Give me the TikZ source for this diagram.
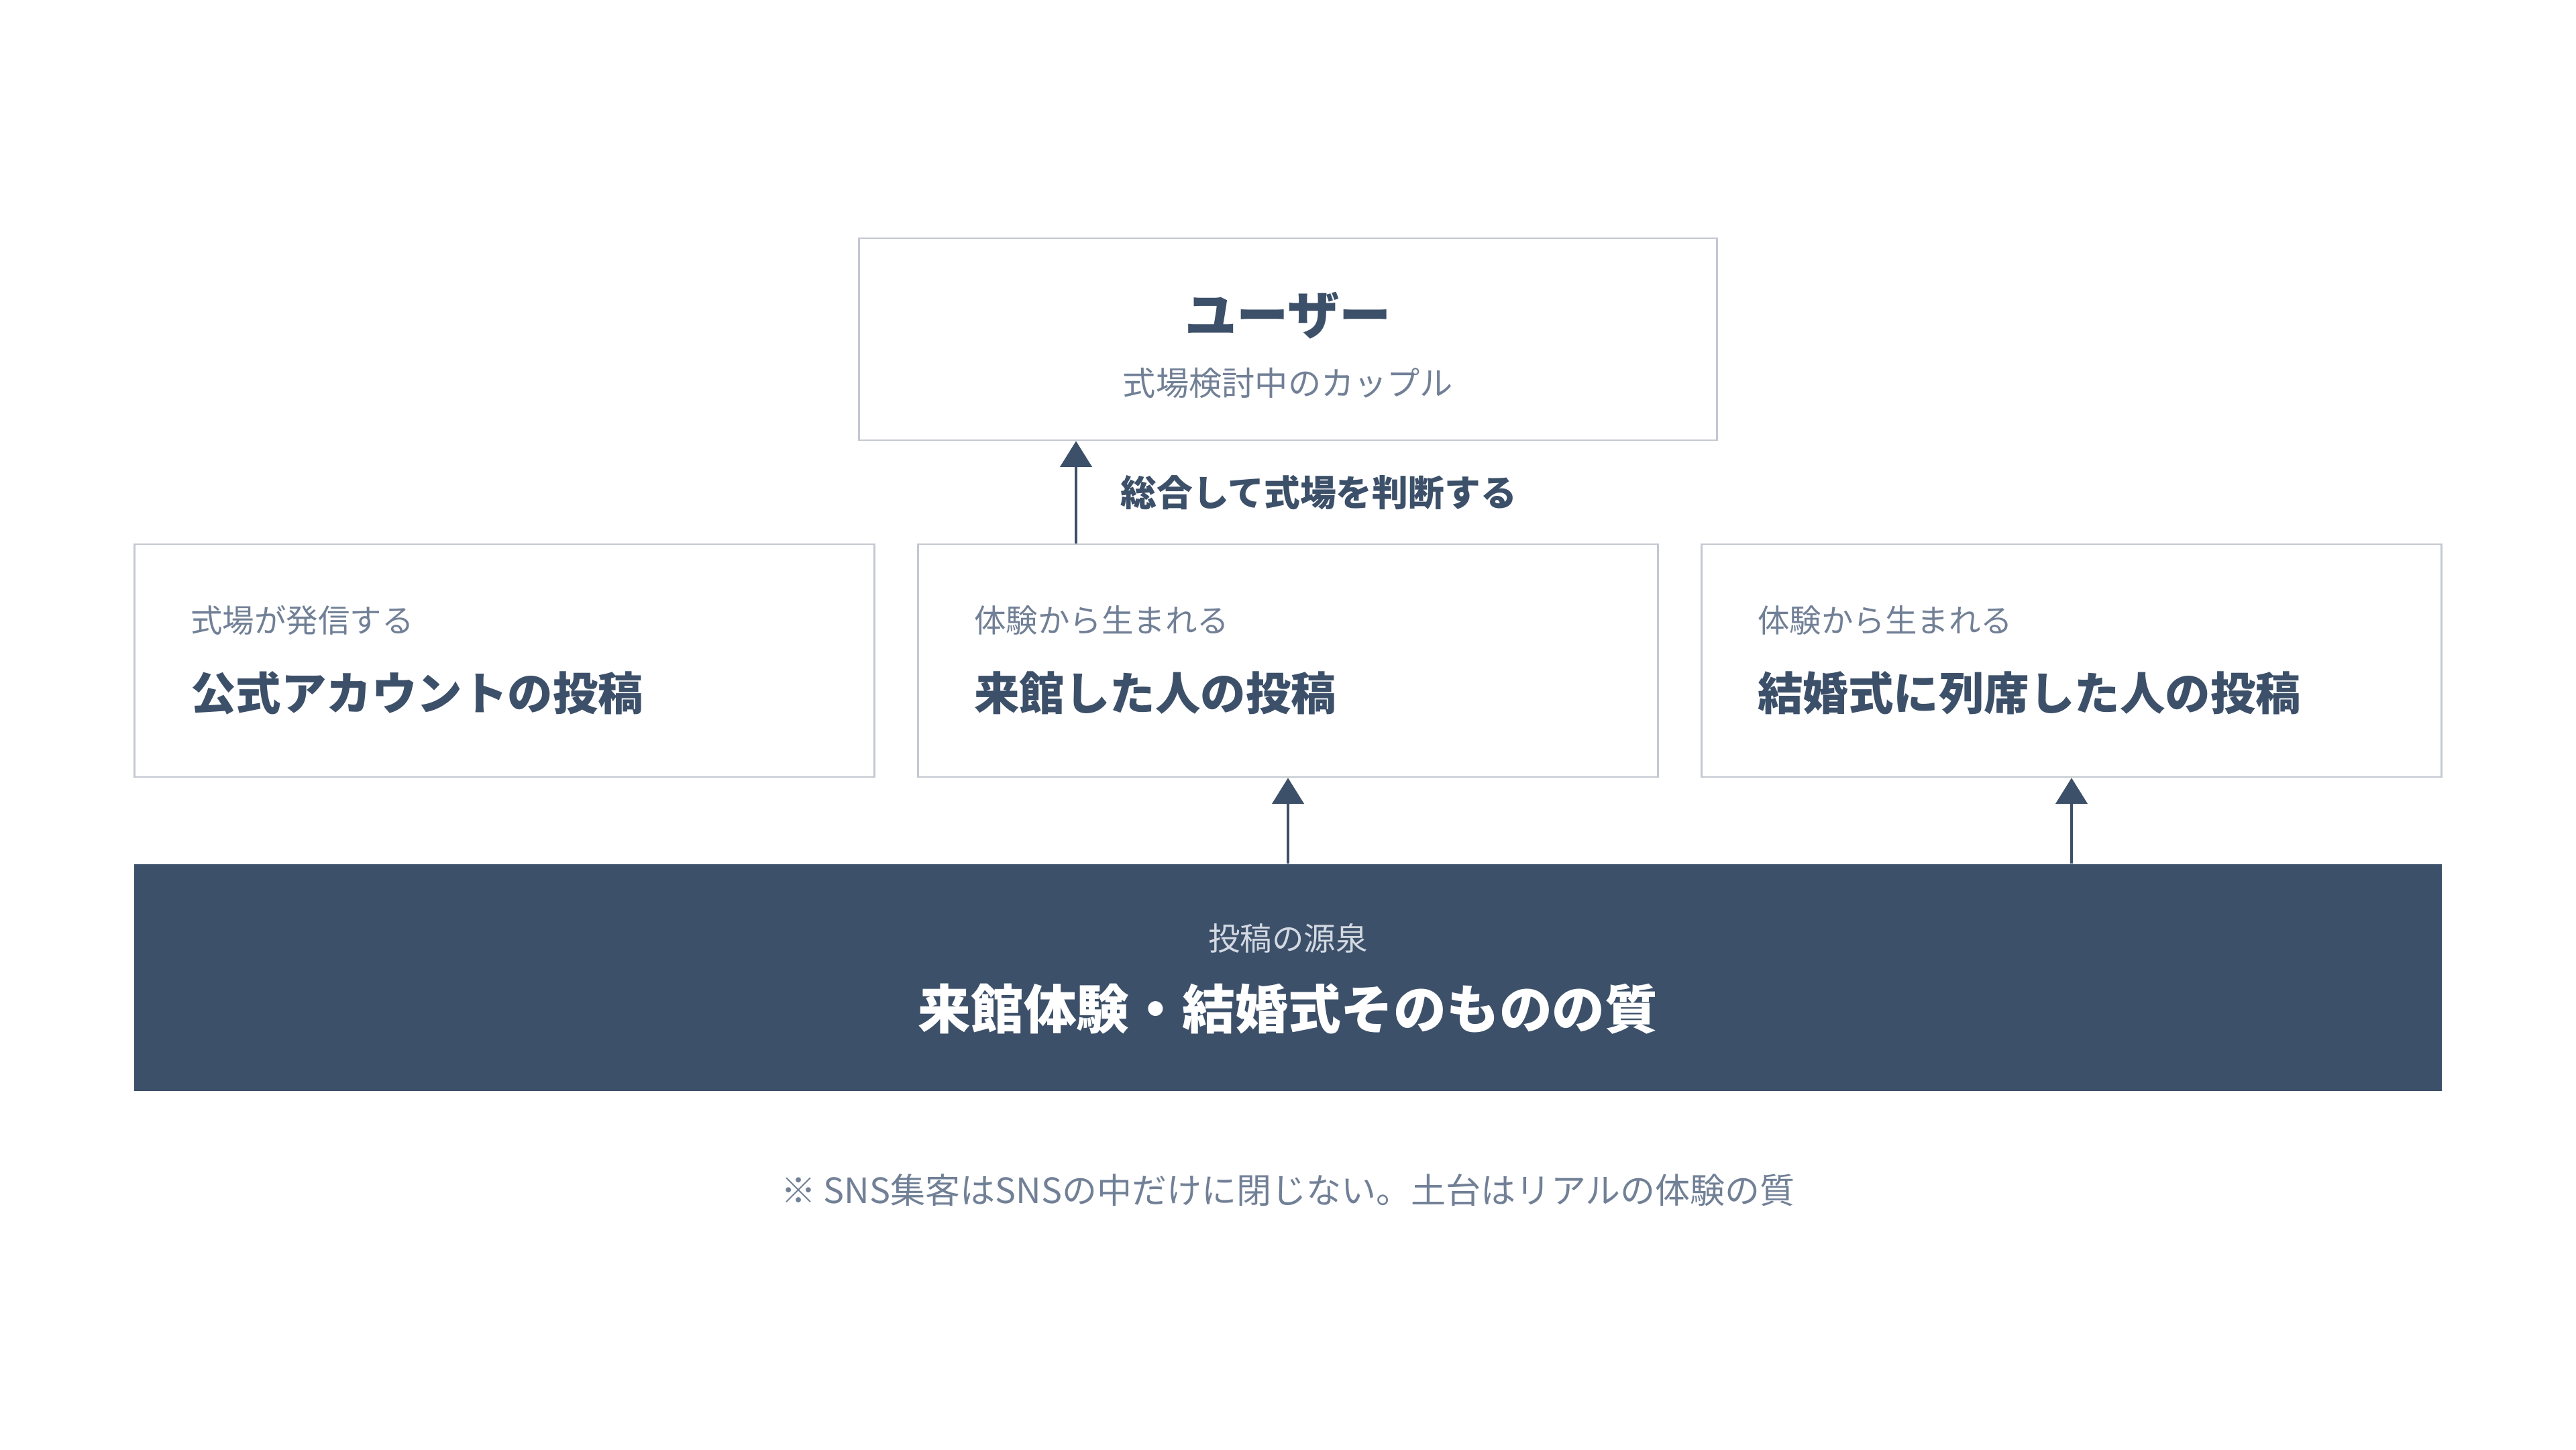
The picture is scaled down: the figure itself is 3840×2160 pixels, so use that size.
\documentclass[tikz,border=0pt]{standalone}
\usepackage{fontspec}
\setmainfont{Noto Sans CJK JP}
\usepackage{tikz}
\usetikzlibrary{arrows.meta,positioning}
\definecolor{navy}{HTML}{3D5069}
\definecolor{edgegray}{HTML}{C3C8D1}
\definecolor{subgray}{HTML}{718096}
\definecolor{palegray}{HTML}{D3D9E2}

\begin{document}
\begin{tikzpicture}[x=0.01cm,y=0.01cm,
            card/.style={draw=edgegray,line width=0.7pt,fill=white,
                minimum width=11.02cm,minimum height=3.47cm,inner sep=0pt},
            usercard/.style={card,minimum width=12.78cm,minimum height=3.01cm},
            base/.style={fill=navy,minimum width=34.38cm,minimum height=3.38cm,
                inner sep=0pt},
            subtxt/.style={font=\fontsize{13.5pt}{16pt}\selectfont,text=subgray,
                inner sep=0pt},
            headtxt/.style={font=\fontsize{19.2pt}{23pt}\selectfont\bfseries,
                text=navy,inner sep=0pt},
            up/.style={draw=navy,line width=1.15pt,
                -{Triangle[length=11pt,width=13.4pt]}}]
            \useasboundingbox (0,0) rectangle (3840,2160);

            % top: the couple
            \node[usercard] (user) at (1920,1654.5) {};
            \node[headtxt,font=\fontsize{22pt}{26pt}\selectfont\bfseries] (usert) at (1920,1690) {ユーザー};
            \node[subtxt,font=\fontsize{14pt}{17pt}\selectfont] (users) at (1920,1589) {式場検討中のカップル};

            % middle row
            \node[card] (official) at (752,1175.5) {};
            \node[card] (visit) at (1920,1175.5) {};
            \node[card] (guest) at (3088,1175.5) {};
            \node[subtxt,anchor=west] (officials) at ([xshift=0.84cm,yshift=0.6cm]official.west) {式場が発信する};
            \node[headtxt,anchor=west] (officialt) at ([xshift=0.84cm,yshift=-0.48cm]official.west) {公式アカウントの投稿};
            \node[subtxt,anchor=west] (visits) at ([xshift=0.84cm,yshift=0.6cm]visit.west) {体験から生まれる};
            \node[headtxt,anchor=west] (visitt) at ([xshift=0.84cm,yshift=-0.48cm]visit.west) {来館した人の投稿};
            \node[subtxt,anchor=west] (guests) at ([xshift=0.84cm,yshift=0.6cm]guest.west) {体験から生まれる};
            \node[headtxt,anchor=west] (guestt) at ([xshift=0.84cm,yshift=-0.48cm]guest.west) {結婚式に列席した人の投稿};

            % bottom band
            \node[base] (source) at (1920,703) {};
            \node[subtxt,text=palegray] (sources) at (1920,762) {投稿の源泉};
            \node[headtxt,text=white,font=\fontsize{22.4pt}{27pt}\selectfont\bfseries] (sourcet) at (1920,656) {来館体験・結婚式そのものの質};

            % arrows
            \coordinate (judge) at (1604,1426);
            \draw[up] (visit.north -| judge) -- (user.south -| judge);
            \node[headtxt,font=\fontsize{15.3pt}{18pt}\selectfont\bfseries,anchor=west] (judget) at ([xshift=0.66cm]judge) {総合して式場を判断する};
            \draw[up] (source.north -| visit.south) -- (visit.south);
            \draw[up] (source.north -| guest.south) -- (guest.south);

            \node[subtxt,font=\fontsize{14.8pt}{18pt}\selectfont] (note) at (1920,386) {※ SNS集客はSNSの中だけに閉じない。土台はリアルの体験の質};

        \end{tikzpicture}
\end{document}
